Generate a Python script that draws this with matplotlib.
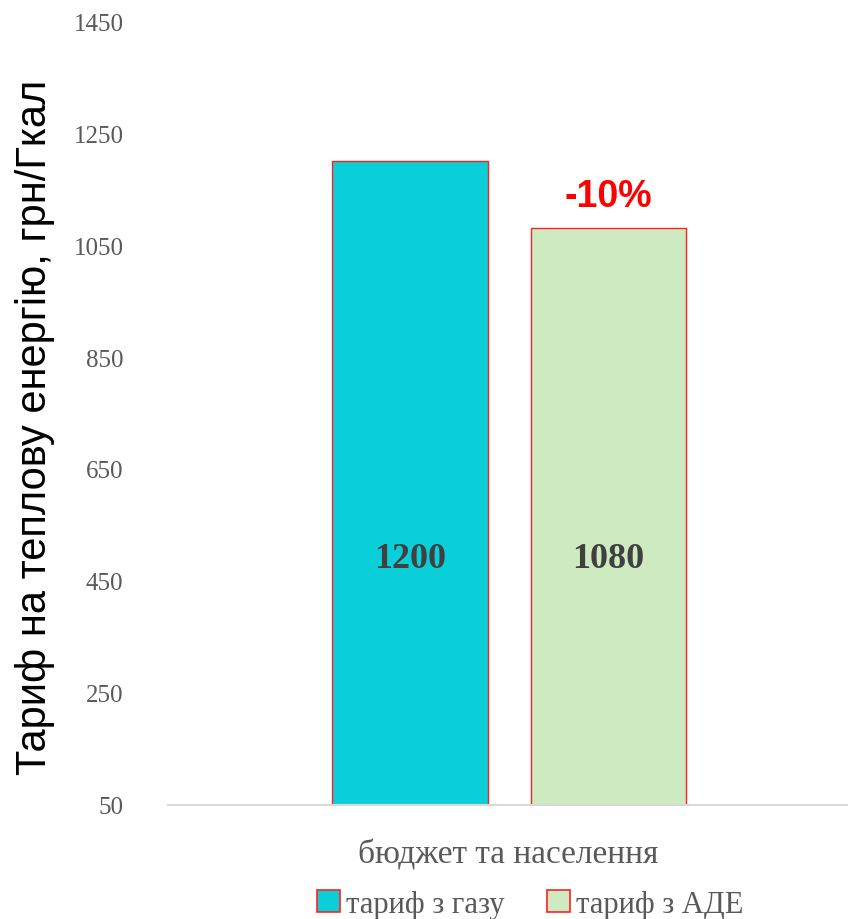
import matplotlib
matplotlib.use("Agg")
import matplotlib.pyplot as plt
from matplotlib.patches import Patch

category = "бюджет та населення"
series_names = ["тариф з газу", "тариф з АДЕ"]
values = [1200, 1080]
bar_labels = ["1200", "1080"]
change_label = "-10%"
yticks = [50, 250, 450, 650, 850, 1050, 1250, 1450]
ylabel = "Тариф на теплову енергію, грн/Гкал"

colors = ["#0bcfd8", "#cdeac0"]
edge = "#ff2020"
serif = ["Liberation Serif", "DejaVu Serif"]

fig = plt.figure(figsize=(8.48, 9.2), dpi=100)
ax = fig.add_axes([0.198, 0.124, 0.802, 0.852])

offsets = [-0.144, 0.148]
width = 0.228
for i, (v, off) in enumerate(zip(values, offsets)):
    ax.bar(off, v - yticks[0], bottom=yticks[0], width=width, color=colors[i],
           edgecolor=edge, linewidth=1.0, zorder=2)
    ax.text(off, 0.315, bar_labels[i], transform=ax.get_xaxis_transform(),
            ha="center", va="center", fontsize=26, fontweight="bold",
            color="#404040", family=serif)

ax.annotate(change_label, xy=(offsets[1], values[1]), xytext=(0, 10),
            textcoords="offset points", ha="center", va="bottom",
            fontsize=27, fontweight="bold", color="#ff0000",
            family=["Liberation Sans", "DejaVu Sans"])

ax.set_xlim(-0.5, 0.5)
ax.set_ylim(yticks[0], yticks[-1])
ax.set_yticks(yticks)
ax.set_yticklabels([str(t) for t in yticks], fontsize=18, color="#595959",
                   family=serif)
ax.set_xticks([0])
ax.set_xticklabels([category], fontsize=24, color="#595959", family=serif)
ax.tick_params(axis="both", length=0)
ax.tick_params(axis="y", pad=32)
ax.tick_params(axis="x", pad=24)
for s in ["top", "right", "left"]:
    ax.spines[s].set_visible(False)
ax.spines["bottom"].set_color("#d9d9d9")
ax.spines["bottom"].set_linewidth(1.5)

fig.text(35 / 848, 0.536, ylabel, rotation=90, ha="center", va="center",
         fontsize=30, color="black", family=["Liberation Sans", "DejaVu Sans"])

handles = [Patch(facecolor=c, edgecolor=edge, linewidth=1.2) for c in colors]
fig.legend(handles, series_names, loc="center", bbox_to_anchor=(530 / 848, 0.016),
           ncol=2, frameon=False, prop={"family": serif, "size": 22},
           handlelength=0.75, handleheight=0.75, handletextpad=0.2,
           columnspacing=1.4, labelcolor="#595959", borderpad=0.1)

fig.savefig("out.png", dpi=100)
